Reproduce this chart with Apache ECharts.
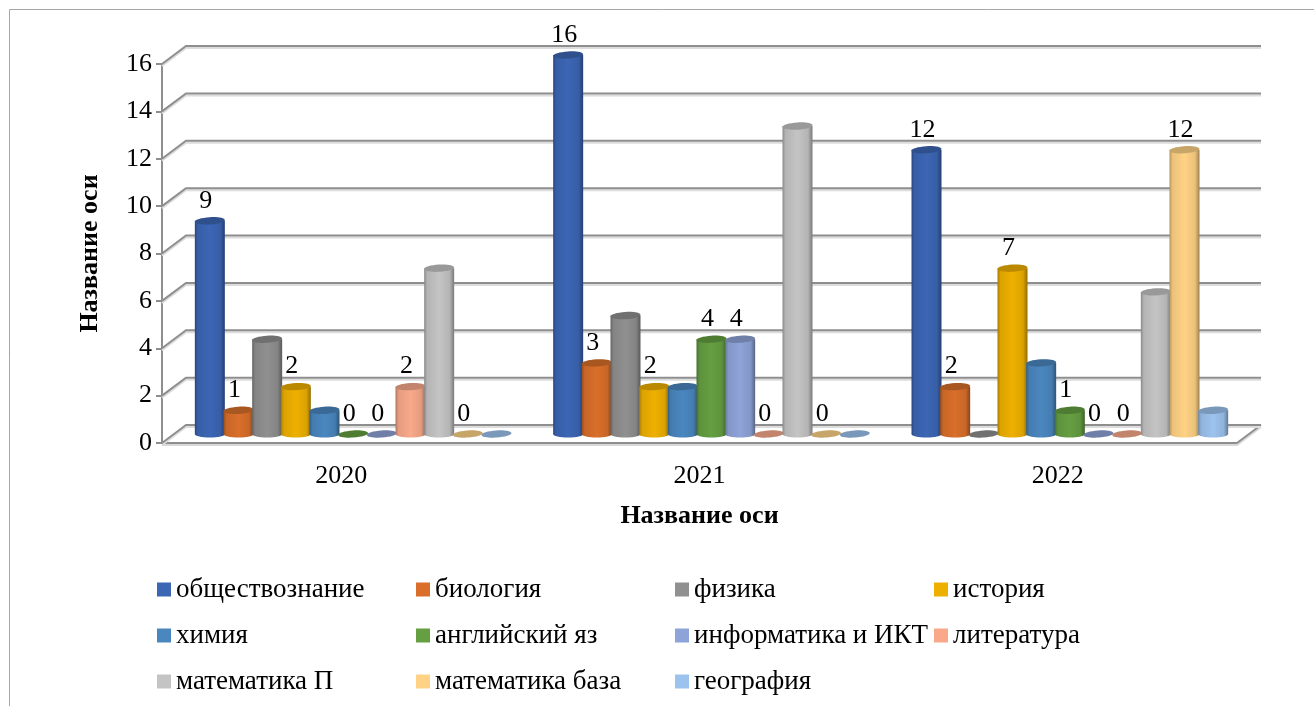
<!DOCTYPE html>
<html>
<head>
<meta charset="utf-8">
<style>
  html, body { margin: 0; background: #fff; }
  #chart { width: 1314px; height: 706px; }
</style>
<script src="https://cdn.jsdelivr.net/npm/echarts@6/dist/echarts.min.js"></script>
</head>
<body>
<div id="chart"></div>
<script>
const years = ['2020', '2021', '2022']
const subjects = ['обществознание', 'биология', 'физика', 'история', 'химия', 'английский яз',
  'информатика и ИКТ', 'литература', 'математика П', 'математика база', 'география']
const values2020 = [9, 1, 4, 2, 1, 0, 0, 2, 7, 0, 0]
const values2021 = [16, 3, 5, 2, 2, 4, 4, 0, 13, 0, 0]
const values2022 = [12, 2, 0, 7, 3, 1, 0, 0, 6, 12, 1]
const wallTicks = [0, 2, 4, 6, 8, 10, 12, 14, 16]
const unlabelled = ['физика', 'химия', 'математика П', 'география']
const palette = ['#3c66b4', '#d96f2a', '#909090', '#eeb000', '#4a87bf', '#659f42',
  '#8ea3d8', '#f9a98a', '#c4c4c4', '#ffd285', '#9cc3ee']

const valuesByYear = [values2020, values2021, values2022]
const FONT = '"Liberation Serif", "Times New Roman", serif'
const AXIS_COLOR = '#8e8e8e'
const darken = (c, t) => echarts.color.lerp(t, [c, '#000000'])

const chart = echarts.init(document.getElementById('chart'), null, { renderer: 'canvas' })

// back wall and floor, drawn behind the cylinders
function renderWall(params, api) {
  const y = api.coord([0, api.value(0)])[1]
  const x0 = params.coordSys.x
  const x1 = x0 + params.coordSys.width
  const back = [[x0, y], [x0 + 24, y - 18], [x1 + 24, y - 18]]
  const children = []
  if (api.value(0) === 0) {
    children.push({
      type: 'polyline',
      shape: { points: [[x0, y + 2], [x1, y + 2], [x1 + 24, y - 16]] },
      style: { fill: null, stroke: '#d8d8d8', lineWidth: 2 },
    })
    children.push({
      type: 'polyline',
      shape: { points: [[x1, y], [x1 + 24, y - 18]] },
      style: { fill: null, stroke: AXIS_COLOR, lineWidth: 2 },
    })
  }
  children.push({
    type: 'polyline',
    shape: { points: back.map(p => [p[0], p[1] + 2]) },
    style: { fill: null, stroke: '#dcdcdc', lineWidth: 2 },
  })
  children.push({
    type: 'polyline',
    shape: { points: back },
    style: { fill: null, stroke: AXIS_COLOR, lineWidth: 2 },
  })
  return { type: 'group', children }
}

function renderCylinder(s, params, api) {
  const v = api.value(1)
  const base = palette[s]
  const band = api.size([1, 0])[0]
  const p = api.coord([api.value(0), v])
  const zero = api.coord([api.value(0), 0])
  const cx = p[0] + 12 + (s - 5) * band * 0.08
  const topY = p[1] - 9
  const baseY = zero[1] - 9
  const rx = 15
  const ry = 3.6
  const side = {
    type: 'linear', x: 0, y: 0, x2: 1, y2: 0,
    colorStops: [
      { offset: 0, color: darken(base, 0.3) },
      { offset: 0.1, color: darken(base, 0.08) },
      { offset: 0.5, color: base },
      { offset: 0.85, color: darken(base, 0.08) },
      { offset: 1, color: darken(base, 0.38) },
    ],
  }
  const children = []
  if (v > 0) {
    children.push({ type: 'ellipse', shape: { cx, cy: baseY, rx, ry }, style: { fill: side } })
    children.push({ type: 'rect', shape: { x: cx - rx, y: topY, width: rx * 2, height: baseY - topY }, style: { fill: side } })
  }
  // the top faces lean a little, lower on the left
  children.push({
    type: 'ellipse',
    shape: { cx, cy: topY, rx, ry },
    originX: cx,
    originY: topY,
    rotation: 0.06,
    style: { fill: darken(base, 0.22) },
  })
  if (!unlabelled.includes(subjects[s])) {
    children.push({
      type: 'text',
      z2: 100,
      style: {
        text: String(v), x: cx - 4, y: topY - 20, align: 'center', verticalAlign: 'middle',
        fontFamily: FONT, fontSize: 26, fill: '#000',
      },
    })
  }
  return { type: 'group', children }
}

const series = [{
  type: 'custom',
  name: 'стенка',
  silent: true,
  z: 1,
  data: wallTicks.map(v => [v]),
  encode: { y: 0 },
  renderItem: renderWall,
}].concat(subjects.map((name, s) => ({
  type: 'custom',
  name,
  z: 2,
  itemStyle: { color: palette[s] },
  data: years.map((y, i) => [i, valuesByYear[i][s]]),
  encode: { x: 0, y: 1 },
  renderItem: (params, api) => renderCylinder(s, params, api),
})))

chart.setOption({
  animation: false,
  textStyle: { fontFamily: FONT, color: '#000' },
  grid: { left: 162, right: 77, top: 64, bottom: 263 },
  graphic: [{
    type: 'rect',
    silent: true,
    shape: { x: 9.5, y: 9.5, width: 1400, height: 800 },
    style: { fill: null, stroke: '#a6a6a6', lineWidth: 1 },
  }],
  legend: {
    data: subjects,
    left: 157,
    top: 569,
    width: 1045,
    padding: 0,
    orient: 'horizontal',
    icon: 'rect',
    itemWidth: 14,
    itemHeight: 14,
    itemGap: 5,
    selectedMode: false,
    textStyle: {
      fontFamily: FONT, fontSize: 27, color: '#000',
      width: 235, lineHeight: 41, padding: 0,
    },
  },
  xAxis: {
    type: 'category',
    data: years,
    name: 'Название оси',
    nameLocation: 'middle',
    nameGap: 60,
    nameTextStyle: { fontFamily: FONT, fontSize: 26, fontWeight: 'bold', color: '#000' },
    axisLine: { lineStyle: { color: AXIS_COLOR, width: 2 } },
    axisTick: { length: 8, lineStyle: { color: AXIS_COLOR, width: 2 } },
    axisLabel: { fontFamily: FONT, fontSize: 26, color: '#000', margin: 20 },
    splitLine: { show: false },
  },
  yAxis: {
    type: 'value',
    min: 0,
    max: 16,
    interval: 2,
    name: 'Название оси',
    nameLocation: 'middle',
    nameRotate: 90,
    nameGap: 59,
    nameTextStyle: { fontFamily: FONT, fontSize: 26, fontWeight: 'bold', color: '#000' },
    axisLine: { show: true, lineStyle: { color: AXIS_COLOR, width: 2 } },
    axisTick: { show: true, length: 6, lineStyle: { color: AXIS_COLOR, width: 2 } },
    axisLabel: { fontFamily: FONT, fontSize: 26, color: '#000', margin: 10, padding: [3, 0, 0, 0] },
    splitLine: { show: false },
  },
  series,
})
</script>
</body>
</html>
